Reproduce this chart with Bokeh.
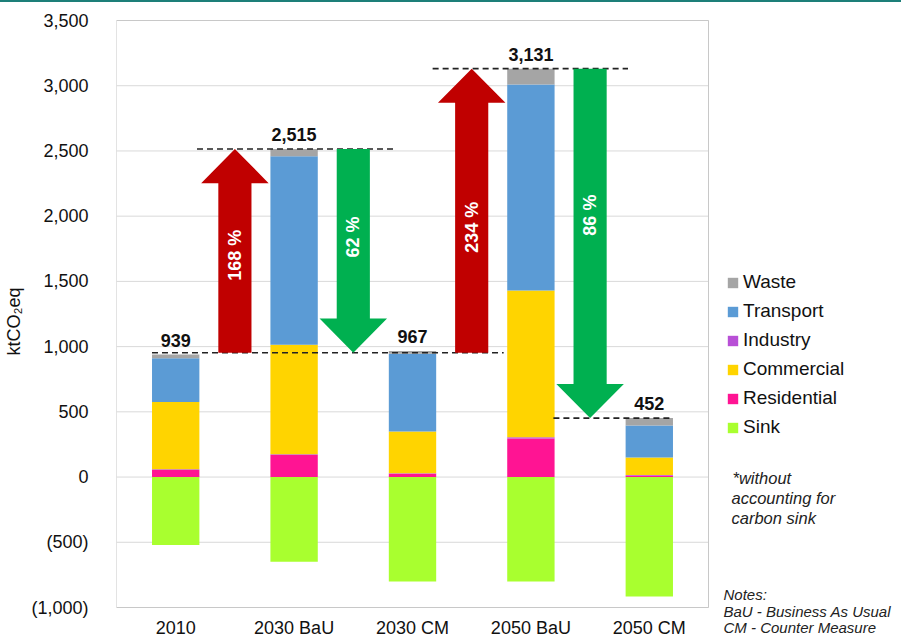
import numpy as np
from bokeh.plotting import figure
from bokeh.models import (ColumnDataSource, FixedTicker, Legend, LegendItem, Label, Range1d)
from bokeh.core.properties import value
from bokeh.embed import file_html
from bokeh.resources import INLINE

# ---------------- data ----------------
categories = ["2010", "2030 BaU", "2030 CM", "2050 BaU", "2050 CM"]
residential = [55, 170, 25, 295, 10]
industry = [5, 5, 5, 10, 5]
commercial = [515, 840, 320, 1125, 135]
transport = [335, 1445, 595, 1580, 245]
waste = [29, 55, 22, 121, 57]
sink = [-520, -650, -800, -800, -915]
totals = [939, 2515, 967, 3131, 452]
total_labels = ["939", "2,515", "967", "3,131", "452"]
pct_labels = ["168 %", "62 %", "234 %", "86 %"]
y_ticks = [-1000, -500, 0, 500, 1000, 1500, 2000, 2500, 3000, 3500]

# ---------------- styles ----------------
FONT = "Liberation Sans"
C_WASTE = "#a5a5a5"
C_TRANSPORT = "#5b9bd5"
C_INDUSTRY = "#b84fd6"
C_COMMERCIAL = "#ffd400"
C_RESIDENTIAL = "#ff1493"
C_SINK = "#a9ff2f"
C_RED = "#c00000"
C_GREEN = "#00b050"

BORDER = 2                   # teal top rule (CSS border)
W, H = 901, 640 - BORDER     # figure size
PL, PR, PT, PB = 116, 708, 20, 607   # visible plot box in page px
YMIN, YMAX = y_ticks[0], y_ticks[-1]
NCAT = len(categories)

# frame spans the whole figure right of the y axis; visible box drawn by hand
fl_page, fr_page = PL, W
ft_page, fb_page = BORDER, BORDER + H
xpp = NCAT / (PR - PL)
ypp = (YMAX - YMIN) / (PB - PT)
x_end = (fr_page - PL) * xpp
y_start = YMIN - (fb_page - PB) * ypp
y_end = YMAX + (PT - ft_page) * ypp

p = figure(width=W, height=H, output_backend="svg", toolbar_location=None,
           x_range=Range1d(0, x_end), y_range=Range1d(y_start, y_end),
           min_border_left=PL, min_border_right=0, min_border_top=0,
           min_border_bottom=0)
p.styles = {"border-top": f"{BORDER}px solid #1d7f79"}
p.background_fill_color = "white"
p.border_fill_color = "white"
p.outline_line_color = None

x = [i + 0.5 for i in range(NCAT)]
src = ColumnDataSource(dict(x=x, residential=residential, industry=industry,
                            commercial=commercial, transport=transport, waste=waste,
                            sink=sink, zero=[0] * NCAT))

# grid + box
p.segment(x0=[0] * len(y_ticks), x1=[NCAT] * len(y_ticks), y0=y_ticks, y1=y_ticks,
          line_color="#d9d9d9", line_width=1)
p.quad(left=[0], right=[NCAT], bottom=[YMIN], top=[YMAX], fill_color=None,
       line_color="#c8c8c8", line_width=1)

BW = 0.4
rs = p.vbar_stack(["residential", "industry", "commercial", "transport", "waste"],
                  x="x", width=BW, source=src,
                  color=[C_RESIDENTIAL, C_INDUSTRY, C_COMMERCIAL, C_TRANSPORT, C_WASTE],
                  line_width=0)
r_sink = p.vbar(x="x", top="zero", bottom="sink", width=BW, source=src,
                color=C_SINK, line_width=0)

# dashed reference lines at scenario totals
baseline = (totals[0] + totals[2]) / 2
seg_y = [baseline, totals[1], totals[3], totals[4]]
seg_x0 = [0.3, 0.68, 2.67, 3.69]
seg_x1 = [3.27, 2.34, 4.32, 4.68]
p.segment(x0=seg_x0, y0=seg_y, x1=seg_x1, y1=seg_y, line_color="#222222",
          line_width=1.6, line_dash="6 4")

# arrows between scenarios
arrow_from = [baseline, totals[1], baseline, totals[3]]
arrow_to = [totals[1], baseline, totals[3], totals[4]]
arrow_x = [1, 2, 3, 4]
arrow_col = [C_RED, C_GREEN, C_RED, C_GREEN]
SHAFT = 0.14
HEAD = 0.285
HEADLEN = 262
xs, ys = [], []
for ax, y0, y1 in zip(arrow_x, arrow_from, arrow_to):
    d = 1 if y1 > y0 else -1
    yh = y1 - d * HEADLEN
    xs.append([ax - SHAFT, ax - SHAFT, ax - HEAD, ax, ax + HEAD, ax + SHAFT, ax + SHAFT])
    ys.append([y0, yh, yh, y1, yh, yh, y0])
p.patches(xs=xs, ys=ys, fill_color=arrow_col, line_color=None)

label_y = [1700, 1840, 1915, 2008]
p.text(x=arrow_x, y=label_y, text=pct_labels, angle=np.pi / 2, text_align="center",
       text_baseline="middle", text_color="white", text_font=value(FONT),
       text_font_size="18px", text_font_style="bold")

# total labels
p.text(x=x, y=totals, text=total_labels, text_align="center", text_baseline="bottom",
       y_offset=-8, text_color="#111111", text_font=value(FONT), text_font_size="18px",
       text_font_style="bold")

# category labels under the box
p.text(x=x, y=[YMIN] * NCAT, text=categories, text_align="center", text_baseline="middle",
       y_offset=20, text_color="#111111", text_font=value(FONT), text_font_size="18px")

# axes
p.xgrid.visible = False
p.ygrid.visible = False
p.xaxis.visible = False
p.yaxis.ticker = FixedTicker(ticks=y_ticks)


def fmt(v):
    s = f"{abs(v):,}"
    return f"({s})" if v < 0 else s


p.yaxis.major_label_overrides = {t: fmt(t) for t in y_ticks}
p.yaxis.axis_line_color = None
p.yaxis.major_tick_line_color = None
p.yaxis.minor_tick_line_color = None
p.yaxis.major_label_text_font = FONT
p.yaxis.major_label_text_font_size = "18px"
p.yaxis.major_label_text_color = "#111111"
p.yaxis.major_label_standoff = 22
p.yaxis.axis_label = "ktCO₂eq"
p.yaxis.axis_label_text_font = FONT
p.yaxis.axis_label_text_font_size = "18px"
p.yaxis.axis_label_text_font_style = "normal"
p.yaxis.axis_label_text_color = "#111111"
p.yaxis.axis_label_standoff = 4

# legend (bottom-left corner given from frame bottom-left)
items = [LegendItem(label="Waste", renderers=[rs[4]]),
         LegendItem(label="Transport", renderers=[rs[3]]),
         LegendItem(label="Industry", renderers=[rs[1]]),
         LegendItem(label="Commercial", renderers=[rs[2]]),
         LegendItem(label="Residential", renderers=[rs[0]]),
         LegendItem(label="Sink", renderers=[r_sink])]
leg = Legend(items=items, location=(726 - fl_page, fb_page - 438), padding=0, margin=0,
             border_line_color=None, background_fill_alpha=0,
             label_text_font=FONT, label_text_font_size="19px", label_text_color="#111111",
             glyph_width=13, glyph_height=13, label_height=20, spacing=7, label_standoff=4)
p.add_layout(leg, "center")


# notes (screen units relative to frame)
def note(text, px, py, size):
    p.add_layout(Label(x=px - fl_page, y=fb_page - py, x_units="screen", y_units="screen",
                       text=text, text_font=FONT, text_font_size=size,
                       text_font_style="italic", text_color="#222222",
                       text_baseline="middle", text_align="left"))


note("*without", 732, 477, "16.5px")
note("accounting for", 731, 497, "16.5px")
note("carbon sink", 731, 517, "16.5px")
note("Notes:", 723, 594, "15px")
note("BaU - Business As Usual", 723, 611, "15px")
note("CM - Counter Measure", 723, 627, "15px")

open("out.html", "w").write(file_html(p, INLINE))
